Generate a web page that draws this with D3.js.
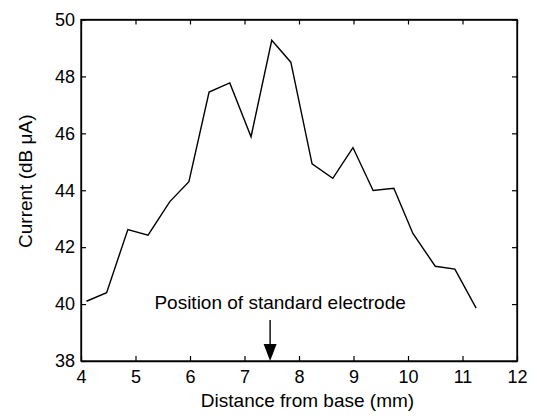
<!DOCTYPE html>
<html>
<head>
<meta charset="utf-8">
<script src="https://cdn.jsdelivr.net/npm/d3@7"></script>
<style>
  html, body { margin: 0; padding: 0; background: #fff; }
  svg { display: block; font-family: Arial, "Liberation Sans", Helvetica, sans-serif; }
</style>
</head>
<body>
<svg id="chart" width="537" height="416"></svg>
<script>
// Data
const distance = [4.1, 4.47, 4.86, 5.23, 5.63, 5.98, 6.35, 6.73, 7.12, 7.5, 7.85, 8.24, 8.62, 8.99, 9.36, 9.74, 10.09, 10.5, 10.86, 11.25];
const current  = [40.1, 40.4, 42.62, 42.42, 43.6, 44.3, 47.45, 47.77, 45.88, 49.27, 48.5, 44.93, 44.42, 45.5, 43.99, 44.07, 42.48, 41.33, 41.23, 39.86];
const xTicks = [4, 5, 6, 7, 8, 9, 10, 11, 12];
const yTicks = [38, 40, 42, 44, 46, 48, 50];
const xLabel = "Distance from base (mm)";
const yLabel = "Current (dB μA)";
const annotationText = "Position of standard electrode";
const electrodePosition = 7.47;

const W = 537, H = 416;
const margin = { top: 19.5, right: 20, bottom: 55, left: 81 };
const svg = d3.select("#chart");

const x = d3.scaleLinear().domain([4, 12]).range([margin.left, W - margin.right]);
const y = d3.scaleLinear().domain([38, 50]).range([H - margin.bottom, margin.top]);

const tickFont = 18;
const labelFont = 19;
const tickLen = 5;

// box
svg.append("rect")
  .attr("x", x(4)).attr("y", y(50))
  .attr("width", x(12) - x(4)).attr("height", y(38) - y(50))
  .attr("fill", "none").attr("stroke", "#000").attr("stroke-width", 1.3);

// Axes (inward ticks)
const xBottom = svg.append("g").attr("transform", `translate(0,${y(38)})`)
  .call(d3.axisBottom(x).tickValues(xTicks).tickSizeInner(-tickLen).tickSizeOuter(0).tickPadding(9));
const xTop = svg.append("g").attr("transform", `translate(0,${y(50)})`)
  .call(d3.axisTop(x).tickValues(xTicks).tickSizeInner(-tickLen).tickSizeOuter(0).tickFormat(""));
const yLeft = svg.append("g").attr("transform", `translate(${x(4)},0)`)
  .call(d3.axisLeft(y).tickValues(yTicks).tickSizeInner(-tickLen).tickSizeOuter(0).tickPadding(6));
const yRight = svg.append("g").attr("transform", `translate(${x(12)},0)`)
  .call(d3.axisRight(y).tickValues(yTicks).tickSizeInner(-tickLen).tickSizeOuter(0).tickFormat(""));

[xBottom, xTop, yLeft, yRight].forEach(g => {
  g.select(".domain").attr("stroke", "#000").attr("stroke-width", 1.3);
  g.selectAll(".tick line").attr("stroke", "#000").attr("stroke-width", 1.2);
  g.selectAll(".tick text").attr("fill", "#000").style("font-size", tickFont + "px").style("font-family", "Arial, 'Liberation Sans', sans-serif");
});

// data line
const line = d3.line().x((d, i) => x(distance[i])).y(d => y(d));
svg.append("path")
  .datum(current)
  .attr("d", line)
  .attr("fill", "none")
  .attr("stroke", "#000")
  .attr("stroke-width", 1.4)
  .attr("stroke-linejoin", "miter");

// annotation text
svg.append("text")
  .attr("x", x(electrodePosition) + 10)
  .attr("y", y(40) + 5)
  .attr("text-anchor", "middle")
  .style("font-size", labelFont + "px")
  .attr("fill", "#000")
  .text(annotationText);

// arrow
const ax = x(electrodePosition);
const yTop = y(40) + 16;
const yTip = y(38);
svg.append("line")
  .attr("x1", ax).attr("x2", ax)
  .attr("y1", yTop).attr("y2", yTip - 10)
  .attr("stroke", "#000").attr("stroke-width", 1.4);
svg.append("path")
  .attr("d", `M${ax - 6.5},${yTip - 17} L${ax + 6.5},${yTip - 17} L${ax},${yTip} Z`)
  .attr("fill", "#000");

// axis labels
svg.append("text")
  .attr("x", (x(4) + x(12)) / 2 + 8.5)
  .attr("y", 407)
  .attr("text-anchor", "middle")
  .style("font-size", labelFont + "px")
  .attr("fill", "#000")
  .text(xLabel);

svg.append("text")
  .attr("transform", `translate(32,${(y(38) + y(50)) / 2 - 9}) rotate(-90)`)
  .attr("text-anchor", "middle")
  .style("font-size", labelFont + "px")
  .attr("fill", "#000")
  .text(yLabel);
</script>
</body>
</html>
